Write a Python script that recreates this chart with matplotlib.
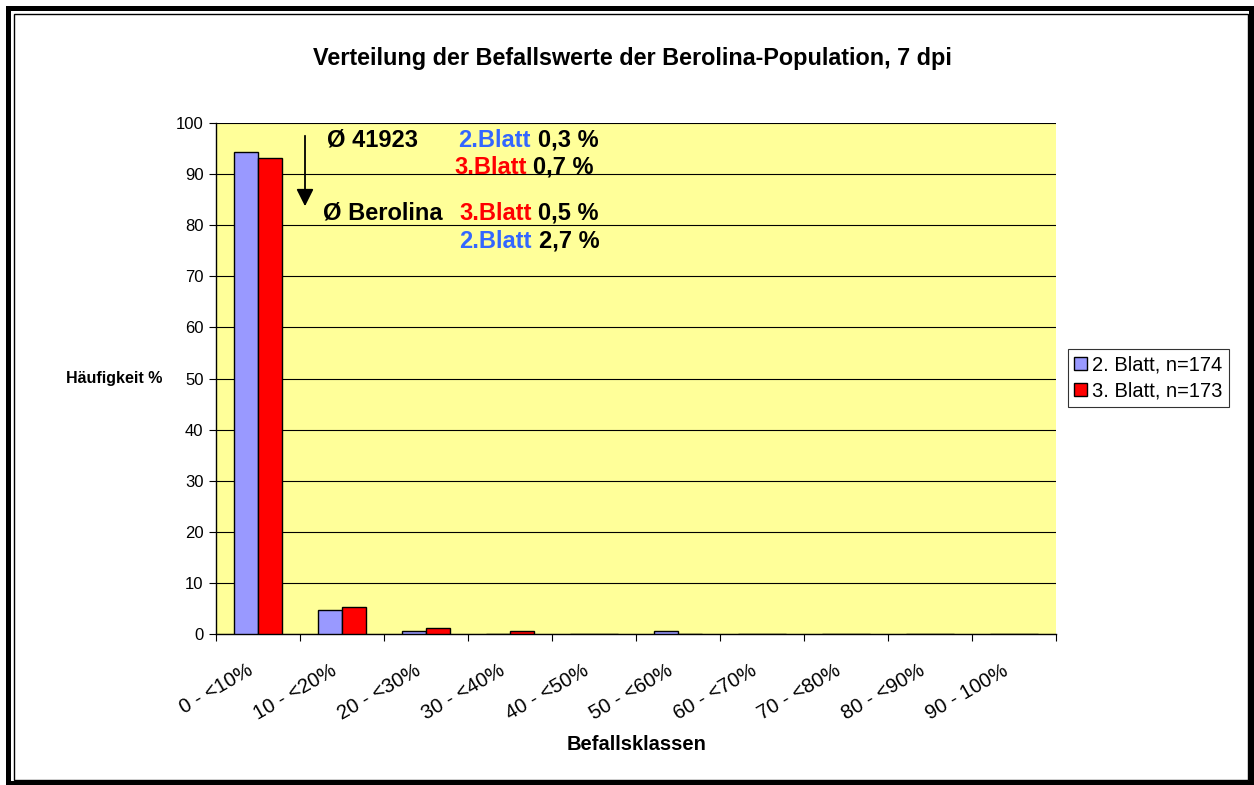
import matplotlib.pyplot as plt
import numpy as np
from matplotlib.patches import Rectangle
from matplotlib.transforms import offset_copy

plt.rcParams['font.family'] = ['Liberation Sans', 'DejaVu Sans']

categories = ['0 - <10%', '10 - <20%', '20 - <30%', '30 - <40%', '40 - <50%',
              '50 - <60%', '60 - <70%', '70 - <80%', '80 - <90%', '90 - 100%']
blatt2 = [94.3, 4.6, 0.6, 0.0, 0.0, 0.6, 0.0, 0.0, 0.0, 0.0]
blatt3 = [93.1, 5.2, 1.2, 0.6, 0.0, 0.0, 0.0, 0.0, 0.0, 0.0]
yticks = [0, 10, 20, 30, 40, 50, 60, 70, 80, 90, 100]

c_blue = '#9999FF'
c_red = '#FF0000'
c_txtblue = '#3366FF'

fig = plt.figure(figsize=(12.54, 7.85), dpi=100)
ax = fig.add_axes([216 / 1254, 1 - 634 / 785, 840 / 1254, 511 / 785])
ax.set_facecolor('#FFFF99')

x = np.arange(len(categories))
w = 1 / 3.5
ax.bar(x - w / 2, blatt2, w, color=c_blue, edgecolor='black', linewidth=1,
       label='2. Blatt, n=174', zorder=3)
ax.bar(x + w / 2, blatt3, w, color=c_red, edgecolor='black', linewidth=1,
       label='3. Blatt, n=173', zorder=3)

ax.set_xlim(-0.5, len(categories) - 0.5)
ax.set_ylim(0, 100)
ax.set_yticks(yticks)
ax.tick_params(axis='y', labelsize=12, length=5, direction='out', pad=4)
ax.yaxis.grid(True, color='black', linewidth=0.8, zorder=0)
ax.set_axisbelow(True)

# ticks at category boundaries, labels rotated under the centres
ax.set_xticks(np.arange(len(categories) + 1) - 0.5)
ax.set_xticklabels([])
ax.tick_params(axis='x', which='major', length=5, direction='out')
for i, lab in enumerate(categories):
    tr = offset_copy(ax.get_xaxis_transform(), fig=fig, x=-7, y=-35, units='dots')
    ax.text(i, 0, lab, transform=tr, rotation=30, ha='right', va='center',
            rotation_mode='anchor', fontsize=14.5)

for s in ['top', 'right']:
    ax.spines[s].set_visible(False)
for s in ['left', 'bottom']:
    ax.spines[s].set_color('black')
    ax.spines[s].set_linewidth(1)

fig.text(632 / 1254, 1 - 58 / 785, 'Verteilung der Befallswerte der Berolina-Population, 7 dpi',
         ha='center', va='center', fontsize=16.8, fontweight='bold')
fig.text(637 / 1254, 1 - 744 / 785, 'Befallsklassen', ha='center', va='center',
         fontsize=14.5, fontweight='bold')
fig.text(114 / 1254, 1 - 379 / 785, 'Häufigkeit %', ha='center', va='center',
         fontsize=11.5, fontweight='bold')

# annotations
def px(xp):
    return (xp - 216) / 84 - 0.5

def py(yp):
    return (634 - yp) / 5.11

fs = 17
ax.text(px(327), py(140), 'Ø 41923', fontsize=fs, fontweight='bold', va='center')
ax.text(px(323), py(213), 'Ø Berolina', fontsize=fs, fontweight='bold', va='center')
rows = [(458, 538, 140, '2.Blatt', c_txtblue, '0,3 %'),
        (454, 533, 167, '3.Blatt', c_red, '0,7 %'),
        (459, 538, 213, '3.Blatt', c_red, '0,5 %'),
        (459, 539, 241, '2.Blatt', c_txtblue, '2,7 %')]
for x1, x2, yy, word, col, val in rows:
    ax.text(px(x1), py(yy), word, fontsize=fs, fontweight='bold', color=col, va='center')
    ax.text(px(x2), py(yy), val, fontsize=fs, fontweight='bold', color='black', va='center')

ax.annotate('', xy=(px(305), py(209)), xytext=(px(305), py(133)),
            arrowprops=dict(arrowstyle='-|>', color='black', lw=1.3,
                            mutation_scale=26), zorder=5)

leg = ax.legend(loc='center left', bbox_to_anchor=(1068 / 1254, 1 - 378 / 785),
                bbox_transform=fig.transFigure, fontsize=14.5, frameon=True,
                fancybox=False, edgecolor='black', handlelength=0.65,
                handleheight=0.65, handletextpad=0.25, borderpad=0.3,
                labelspacing=0.35, borderaxespad=0)
leg.get_frame().set_linewidth(0.8)

# double frame around the chart
fig.patches.append(Rectangle((8 / 1254, 2 / 785), 1243 / 1254, 775 / 785,
                             transform=fig.transFigure, fill=False,
                             edgecolor='black', linewidth=3.6))
fig.patches.append(Rectangle((14 / 1254, 5 / 785), 1234 / 1254, 766 / 785,
                             transform=fig.transFigure, fill=False,
                             edgecolor='black', linewidth=1))

fig.savefig('out.png', dpi=100)
